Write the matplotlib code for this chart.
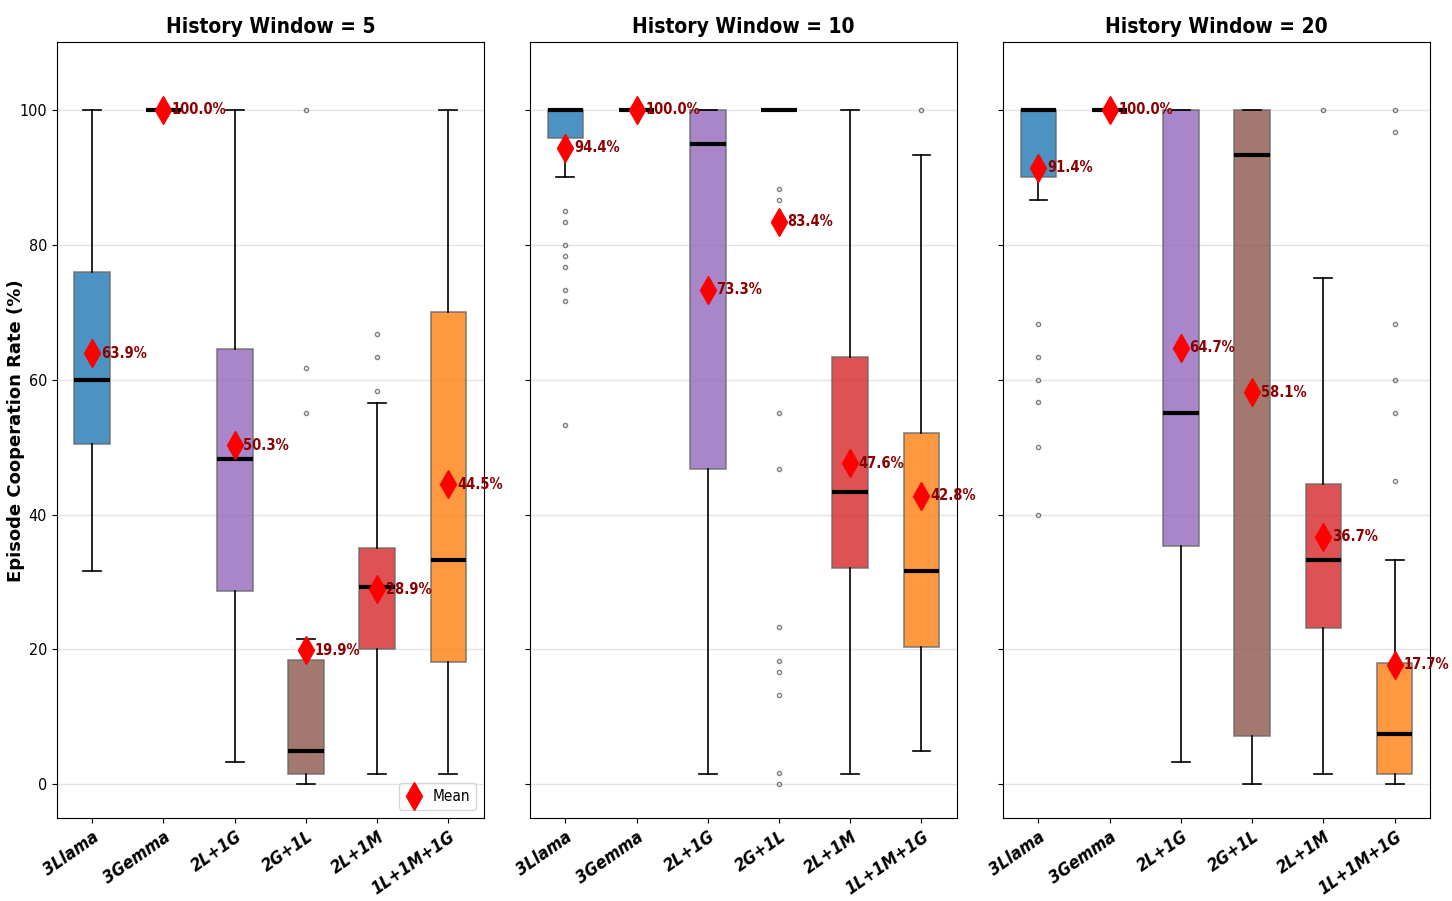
import numpy as np
import matplotlib
matplotlib.use("Agg")
import matplotlib.pyplot as plt
from matplotlib.lines import Line2D

plt.rcParams['font.family'] = ['DejaVu Sans']
plt.rcParams['font.stretch'] = 'condensed'

# configurations sur l'axe x
labels = ["3Llama", "3Gemma", "2L+1G", "2G+1L", "2L+1M", "1L+1M+1G"]
colors = ["tab:blue", "tab:green", "tab:purple", "tab:brown", "tab:red", "tab:orange"]
windows = [5, 10, 20]

# statistiques : (whislo, q1, med, q3, whishi)
stats_w5 = [
    (31.6, 50.4, 60.0, 75.9, 100.0),
    (100.0, 100.0, 100.0, 100.0, 100.0),
    (3.3, 28.7, 48.3, 64.6, 100.0),
    (0.0, 1.6, 5.0, 18.4, 21.6),
    (1.6, 20.0, 29.2, 35.0, 56.6),
    (1.6, 18.2, 33.3, 70.1, 100.0),
]
means_w5 = [63.9, 100.0, 50.3, 19.9, 28.9, 44.5]
fliers_w5 = [[], [], [], [100.0, 61.7, 55.0], [66.7, 63.3, 58.3], []]

stats_w10 = [
    (90.0, 95.8, 100.0, 100.0, 100.0),
    (100.0, 100.0, 100.0, 100.0, 100.0),
    (1.6, 46.7, 95.0, 100.0, 100.0),
    (100.0, 100.0, 100.0, 100.0, 100.0),
    (1.6, 32.1, 43.3, 63.3, 100.0),
    (5.0, 20.4, 31.6, 52.1, 93.3),
]
means_w10 = [94.4, 100.0, 73.3, 83.4, 47.6, 42.8]
fliers_w10 = [
    [85.0, 83.3, 80.0, 78.3, 76.7, 73.3, 71.7, 53.3],
    [],
    [],
    [88.3, 86.7, 55.0, 46.7, 23.3, 18.3, 16.7, 13.3, 1.7, 0.0],
    [],
    [100.0],
]

stats_w20 = [
    (86.7, 90.1, 100.0, 100.0, 100.0),
    (100.0, 100.0, 100.0, 100.0, 100.0),
    (3.3, 35.3, 55.0, 100.0, 100.0),
    (0.0, 7.1, 93.3, 100.0, 100.0),
    (1.6, 23.2, 33.3, 44.6, 75.0),
    (0.0, 1.6, 7.5, 18.0, 33.3),
]
means_w20 = [91.4, 100.0, 64.7, 58.1, 36.7, 17.7]
fliers_w20 = [
    [68.3, 63.3, 60.0, 56.7, 50.0, 40.0],
    [],
    [],
    [],
    [100.0],
    [100.0, 96.7, 68.3, 60.0, 55.0, 45.0],
]

all_stats = [stats_w5, stats_w10, stats_w20]
all_means = [means_w5, means_w10, means_w20]
all_fliers = [fliers_w5, fliers_w10, fliers_w20]

fig, axes = plt.subplots(1, 3, figsize=(14.52, 9.01), dpi=100, sharey=True)
plt.subplots_adjust(left=0.039, right=0.985, top=0.953, bottom=0.092, wspace=0.107)

for k, ax in enumerate(axes):
    bxp_stats = []
    for i, lab in enumerate(labels):
        lo, q1, med, q3, hi = all_stats[k][i]
        bxp_stats.append({"label": lab, "whislo": lo, "q1": q1, "med": med,
                          "q3": q3, "whishi": hi, "fliers": all_fliers[k][i],
                          "mean": all_means[k][i]})
    bp = ax.bxp(bxp_stats, positions=np.arange(len(labels)), widths=0.5,
                patch_artist=True, showmeans=False,
                medianprops=dict(color="black", linewidth=3),
                whiskerprops=dict(color="black", linewidth=1.2),
                capprops=dict(color="black", linewidth=1.2),
                boxprops=dict(edgecolor="dimgray", linewidth=1.2),
                flierprops=dict(marker="o", markersize=3, markerfacecolor="none",
                                markeredgecolor="black", alpha=0.5))
    for patch, c in zip(bp["boxes"], colors):
        patch.set_facecolor(c)
        patch.set_alpha(0.8)

    for i, m in enumerate(all_means[k]):
        ax.plot(i, m, marker="d", color="red", markersize=14, linestyle="none", zorder=5)
        ax.text(i + 0.12, m, f"{m:.1f}%", color="darkred", fontsize=10.5,
                fontweight="bold", va="center", ha="left", zorder=6)

    ax.set_title(f"History Window = {windows[k]}", fontsize=15, fontweight="bold", pad=7)
    ax.set_ylim(-5, 110)
    ax.set_xlim(-0.5, 5.5)
    ax.set_yticks([0, 20, 40, 60, 80, 100])
    ax.tick_params(axis="y", labelsize=11.5)
    ax.set_xticks(np.arange(len(labels)))
    ax.set_xticklabels(labels, rotation=35, ha="right", rotation_mode="anchor",
                       fontsize=12.5, fontweight="bold", fontstyle="italic")
    ax.grid(True, axis="y", color="lightgray", alpha=0.6, linewidth=1)
    ax.set_axisbelow(True)

axes[0].set_ylabel("Episode Cooperation Rate (%)", fontsize=13, fontweight="bold",
                   fontstretch="normal")
axes[0].yaxis.set_label_coords(-0.075, 0.5)
handle = Line2D([], [], marker="d", color="red", markersize=14, linestyle="none")
axes[0].legend([handle], ["Mean"], loc="lower right", fontsize=11,
               handlelength=1.2, handletextpad=0.6, borderpad=0.4)

plt.savefig("out.png", dpi=100)
